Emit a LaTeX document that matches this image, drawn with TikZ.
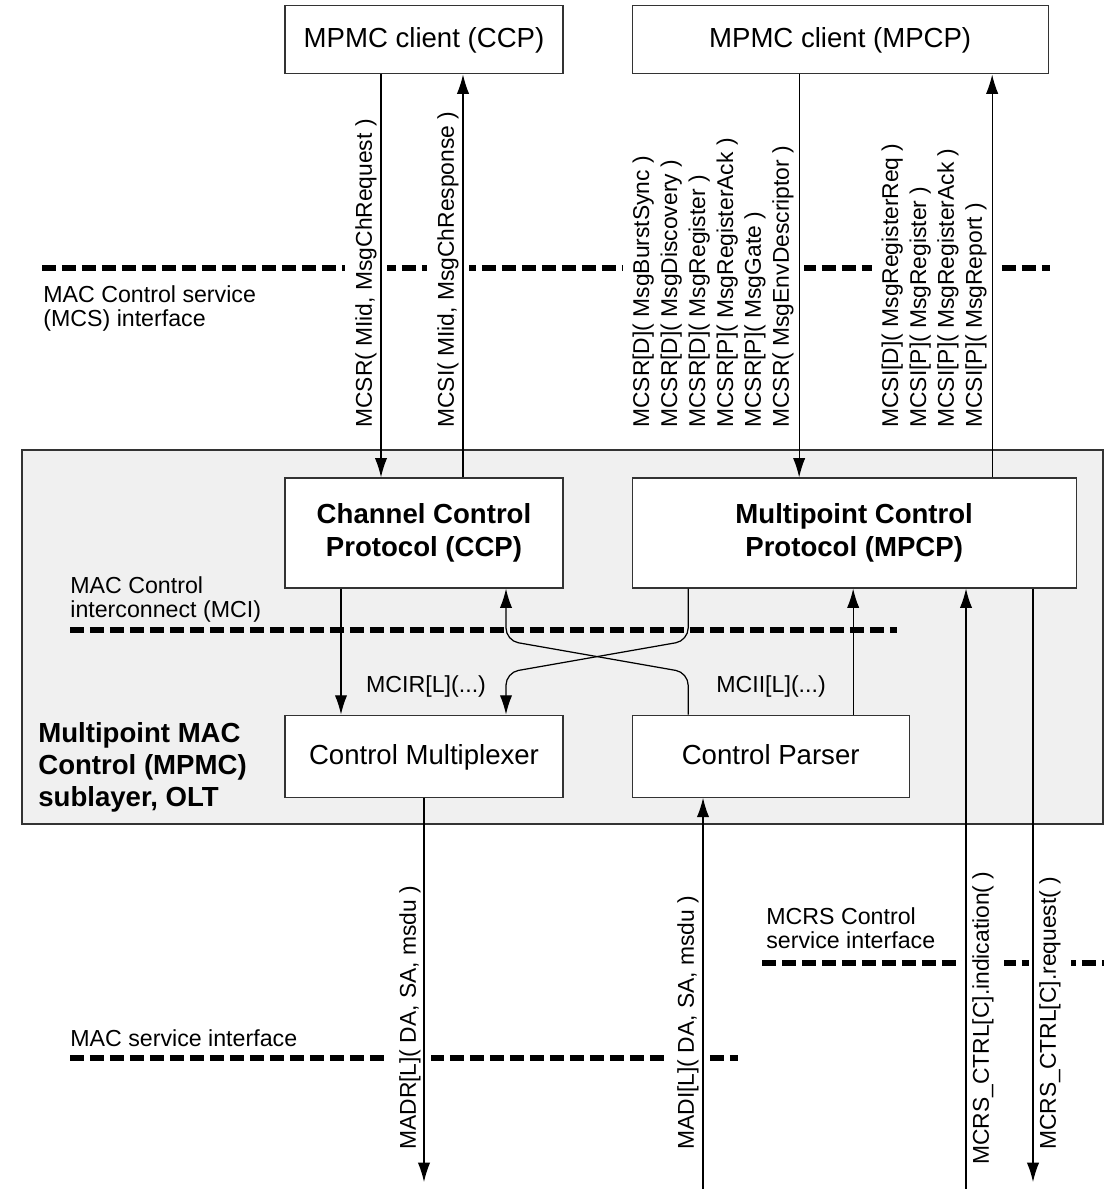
\documentclass[tikz,border=0pt]{standalone}
\usepackage{fontspec}
\setmainfont{Liberation Sans}
\usetikzlibrary{calc,positioning,arrows.meta}
\tikzset{line/.style={draw, line width=0.7pt, -{Latex[length=11pt,width=7pt]}}}
\tikzset{iface/.style={draw, line width=3.4pt, dash pattern=on 0.28cm off 0.12cm}}

\begin{document}
\begin{tikzpicture}[x=0.02cm, y=-0.02cm]
\tikzstyle{block} = [rectangle, draw=black!80, fill=white, line width=0.7pt, align=center, minimum width=5.56cm, font=\fontsize{15.7}{18.8}\selectfont]
\tikzstyle{msg} = [rotate=90, fill=white, inner sep=0.2cm, align=left, font=\fontsize{13}{15.9}\selectfont]
\tikzstyle{note} = [inner sep=0pt, align=left, font=\fontsize{13.2}{13.8}\selectfont]
\useasboundingbox (0,0) rectangle (1104,1189);

% sublayer
\draw[draw=black!80, fill=black!6, line width=0.7pt] (22,450) rectangle (1103,824);
\node[note, anchor=north west, font=\bfseries\fontsize{15.7}{18.2}\selectfont] (mpmc) at (38,722) {Multipoint MAC\\Control (MPMC)\\sublayer, OLT};

% blocks
    % protocols
    \node[block, minimum height=2.2cm, font=\bfseries\fontsize{15.7}{18.8}\selectfont] (ccp) at (424,533) {Channel Control\\Protocol (CCP)};
    \node[block, minimum height=2.2cm, minimum width=8.88cm, right=1.36cm of ccp, font=\bfseries\fontsize{15.7}{18.8}\selectfont] (mpcp) {Multipoint Control\\Protocol (MPCP)};
    % clients
    \node[block, minimum height=1.36cm, text height=0.92em, text depth=0em, above=8.06cm of ccp] (ccpc) {MPMC client (CCP)};
    \node[block, minimum height=1.36cm, text height=0.92em, text depth=0em, minimum width=8.32cm, above=8.06cm of mpcp.north west, anchor=south west] (mpcpc) {MPMC client (MPCP)};
    % mux / parser
    \node[block, minimum height=1.64cm, text height=0.92em, text depth=0em, below=2.52cm of ccp] (mux) {Control Multiplexer};
    \node[block, minimum height=1.64cm, text height=0.92em, text depth=0em, minimum width=5.54cm, right=1.36cm of mux] (parser) {Control Parser};

% interfaces
\draw[iface] (42,268) -- (1050,268);
\draw[iface] (70,630) -- (897,630);
\draw[iface] (70,1058) -- (738,1058);
\draw[iface] (762,963) -- (1104,963);
\node[note, anchor=north west] (mcs) at (43,285) {MAC Control service\\(MCS) interface};
\node[note, anchor=north west] (mci) at (70,576) {MAC Control\\interconnect (MCI)};
\node[note, anchor=north west] (mac) at (70,1029) {MAC service interface};
\node[note, anchor=north west] (mcrs) at (766,907) {MCRS Control\\service interface};

% messages
    % MCS
    \node[msg, anchor=south west] (mcsr) at (387,438) {MCSR( MIid, MsgChRequest )};
    \node[msg, anchor=south west] (mcsi) at (469,438) {MCSI( MIid, MsgChResponse )};
    \node[msg, anchor=south west] (mcsrs) at (804,438) {MCSR[D]( MsgBurstSync )\\MCSR[D]( MsgDiscovery )\\MCSR[D]( MsgRegister )\\MCSR[P]( MsgRegisterAck )\\MCSR[P]( MsgGate )\\MCSR( MsgEnvDescriptor )};
    \node[msg, anchor=south west] (mcsis) at (997,438) {MCSI[D]( MsgRegisterReq )\\MCSI[P]( MsgRegister )\\MCSI[P]( MsgRegisterAck )\\MCSI[P]( MsgReport )};
    % MCI
    \node[note] (mcir) at (426,686) {MCIR[L](...)};
    \node[note] (mcii) at (771,686) {MCII[L](...)};
    % MAC / MCRS
    \node[msg, anchor=south west] (madr) at (431,1160) {MADR[L]( DA, SA, msdu )};
    \node[msg, anchor=south west] (madi) at (709,1160) {MADI[L]( DA, SA, msdu )};
    \node[msg, anchor=north west] (ind) at (962,1175) {MCRS\_CTRL[C].indication( )};
    \node[msg, anchor=north west] (req) at (1029,1160) {MCRS\_CTRL[C].request( )};

% arrows
    % clients
    \coordinate (a1) at ($(ccpc.south)+(-43,0)$);
    \coordinate (a2) at ($(ccp.north)+(39,0)$);
    \coordinate (a3) at ($(mpcpc.south)+(-41,0)$);
    \coordinate (a4) at ($(mpcp.north)+(138,0)$);
    \path [line] (a1) -- (a1 |- ccp.north);
    \path [line] (a2) -- (a2 |- ccpc.south);
    \path [line] (a3) -- (a3 |- mpcp.north);
    \path [line] (a4) -- (a4 |- mpcpc.south);
    % mux / parser
    \coordinate (b1) at ($(ccp.south)+(-83,0)$);
    \coordinate (b2) at ($(parser.north)+(82.5,0)$);
    \coordinate (x1) at ($(ccp.south)+(82,0)$);
    \coordinate (x2) at ($(parser.north)+(-82.5,0)$);
    \path [line] (b1) -- (b1 |- mux.north);
    \path [line] (b2) -- (b2 |- mpcp.south);
    \path [line, rounded corners=0.25cm] (x2) -- ++(0,-42) -- ($(x1)+(0,52)$) -- (x1);
    \path [line, rounded corners=0.25cm] (x1 -| x2) -- ++(0,52) -- ($(x1)+(0,84)$) -- (x1 |- mux.north);
    % MAC / MCRS
    \coordinate (c1) at (966,1189);
    \coordinate (c2) at (1033,1182);
    \coordinate (d1) at (703,1189);
    \path [line] (c1) -- (c1 |- mpcp.south);
    \path [line] (c2 |- mpcp.south) -- (c2);
    \path [line] (mux.south) -- (mux.south |- c2);
    \path [line] (d1) -- (d1 |- parser.south);
\end{tikzpicture}
\end{document}
